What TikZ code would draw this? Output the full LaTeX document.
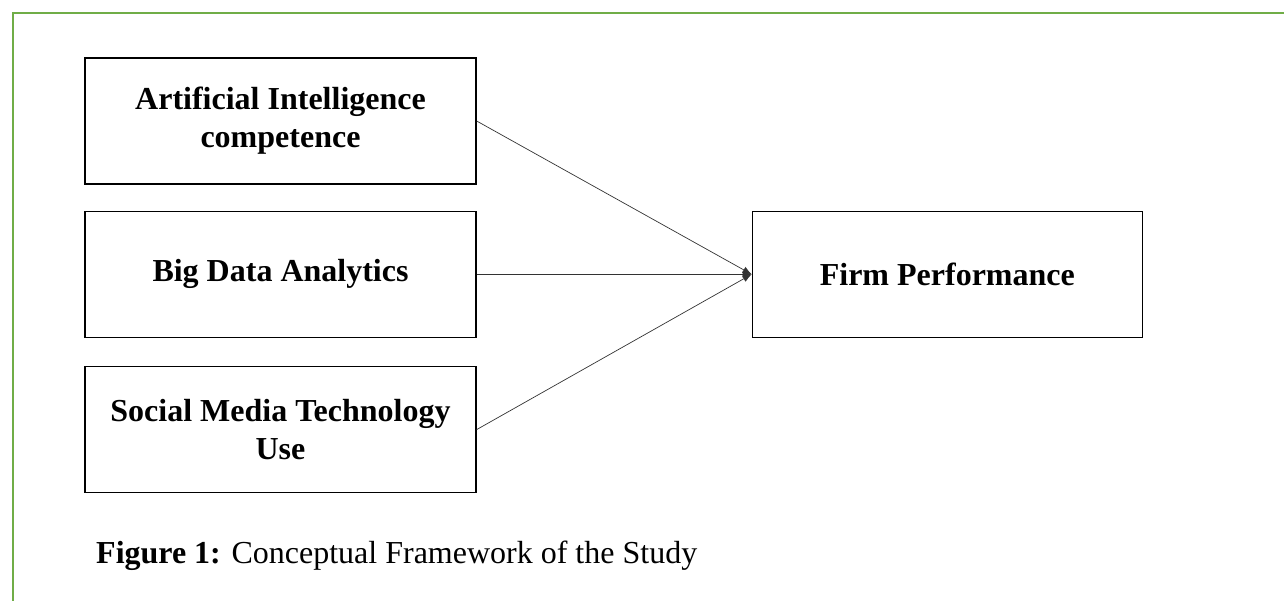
\documentclass[tikz,border=0pt]{standalone}
\usepackage{fontspec}
\setmainfont{Liberation Serif}
\usetikzlibrary{positioning,arrows.meta}
\definecolor{framegreen}{RGB}{112,173,71}

\begin{document}
\begin{tikzpicture}[x=1pt, y=-1pt,
    varbox/.style={draw, line width=1.3pt, minimum width=391pt, minimum height=126pt,
      align=center, inner sep=0pt, font=\fontsize{32}{38}\selectfont\bfseries},
    link/.style={line width=0.7pt, draw=black!80, -{Latex[length=9pt,width=7pt]}}]

    % Frame and page size
    \useasboundingbox (0,0) rectangle (1284,601);
    \draw[framegreen, line width=2pt] (13,601) -- (13,13) -- (1284,13);

    % Variable boxes
    \node[varbox] (ai) at (280.5,121) {Artificial Intelligence\\competence};
    \node[varbox, below=26pt of ai] (bda) {Big Data Analytics};
    \node[varbox, below=28pt of bda] (smt) {Social Media Technology\\Use};
    \node[varbox, minimum width=390pt, right=275pt of bda] (fp) {Firm Performance};

    % Links to firm performance
    \foreach \src in {ai,bda,smt} {
        \draw[link] (\src.east) -- (fp.west);
    }

    % Caption
    \node[anchor=base west, inner sep=0pt, font=\fontsize{32}{36}\selectfont] (cap) at (96,563)
        {\textbf{Figure 1:} Conceptual Framework of the Study};
\end{tikzpicture}
\end{document}
